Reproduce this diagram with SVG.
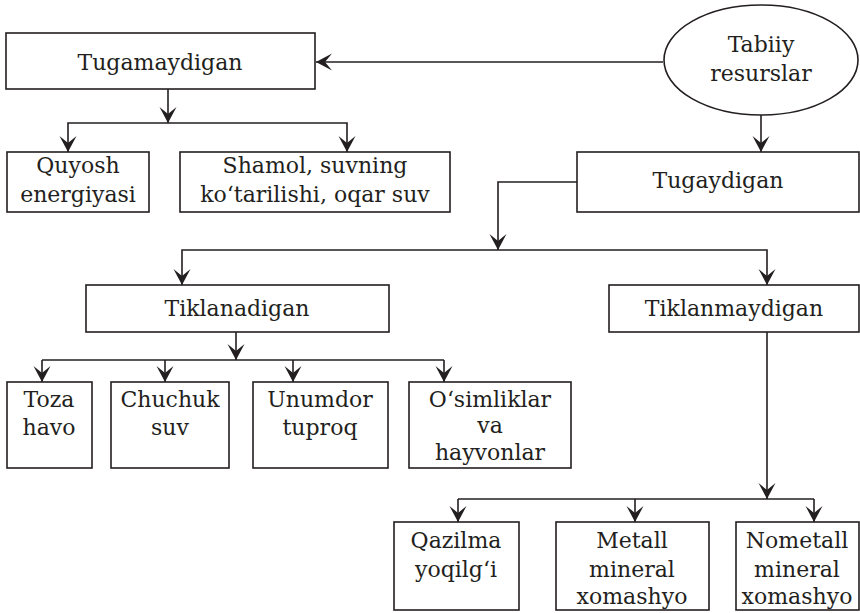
<svg xmlns="http://www.w3.org/2000/svg" width="860" height="613" viewBox="0 0 860 613">
  <defs>
    <marker id="arr" markerUnits="userSpaceOnUse" markerWidth="20" markerHeight="20" viewBox="-18 -10 20 20" refX="0" refY="0" orient="auto">
      <path d="M0,0 L-16,-8.5 L-9,0 L-16,8.5 Z" fill="#231f20"/>
    </marker>
  </defs>
  <style>
    .box { fill: #fff; stroke: #231f20; stroke-width: 1.6; }
    .lbl { font-family: "DejaVu Serif", "Liberation Serif", serif; font-size: 22px; fill: #231f20; text-anchor: middle; }
    .ln { fill: none; stroke: #231f20; stroke-width: 1.6; }
    .ar { fill: none; stroke: #231f20; stroke-width: 1.6; marker-end: url(#arr); }
  </style>
  <rect width="860" height="613" fill="#fff"/>

  <g id="connectors">
    <!-- root to both branches -->
    <line class="ar" x1="663" y1="62" x2="316" y2="62"/>
    <line class="ar" x1="761" y1="115" x2="761" y2="152"/>
    <!-- Tugamaydigan children -->
    <line class="ar" x1="168" y1="89" x2="168" y2="123"/>
    <polyline class="ar" points="168,123 68,123 68,152"/>
    <polyline class="ar" points="168,123 347,123 347,152"/>
    <!-- Tugaydigan children -->
    <polyline class="ar" points="577,182 498,182 498,250"/>
    <polyline class="ar" points="498,250 182,250 182,285"/>
    <polyline class="ar" points="498,250 767,250 767,285"/>
    <!-- Tiklanadigan children -->
    <line class="ar" x1="236" y1="332" x2="236" y2="360"/>
    <line class="ln" x1="42" y1="360" x2="444" y2="360"/>
    <line class="ar" x1="42" y1="360" x2="42" y2="382"/>
    <line class="ar" x1="165" y1="360" x2="165" y2="382"/>
    <line class="ar" x1="293" y1="360" x2="293" y2="382"/>
    <line class="ar" x1="444" y1="360" x2="444" y2="382"/>
    <!-- Tiklanmaydigan children -->
    <line class="ar" x1="767" y1="332" x2="767" y2="499"/>
    <line class="ln" x1="458" y1="499" x2="814" y2="499"/>
    <line class="ar" x1="458" y1="499" x2="458" y2="522"/>
    <line class="ar" x1="635" y1="499" x2="635" y2="522"/>
    <line class="ar" x1="814" y1="499" x2="814" y2="522"/>
  </g>

  <g id="tabiiy">
    <ellipse cx="761" cy="60" rx="97" ry="55" fill="#fff" stroke="#231f20" stroke-width="1.6"/>
    <text class="lbl" x="761" y="52">Tabiiy</text>
    <text class="lbl" x="761" y="81">resurslar</text>
  </g>

  <g id="tugamaydigan">
    <rect class="box" x="6" y="33" width="309" height="56"/>
    <text class="lbl" x="160" y="70">Tugamaydigan</text>
  </g>

  <g id="quyosh">
    <rect class="box" x="7" y="152" width="142" height="60"/>
    <text class="lbl" x="78" y="173">Quyosh</text>
    <text class="lbl" x="78" y="202">energiyasi</text>
  </g>

  <g id="shamol">
    <rect class="box" x="180" y="152" width="270" height="60"/>
    <text class="lbl" x="315" y="173">Shamol, suvning</text>
    <text class="lbl" x="315" y="202">ko‘tarilishi, oqar suv</text>
  </g>

  <g id="tugaydigan">
    <rect class="box" x="577" y="152" width="282" height="60"/>
    <text class="lbl" x="718" y="188">Tugaydigan</text>
  </g>

  <g id="tiklanadigan">
    <rect class="box" x="86" y="285" width="303" height="47"/>
    <text class="lbl" x="237" y="316">Tiklanadigan</text>
  </g>

  <g id="tiklanmaydigan">
    <rect class="box" x="609" y="285" width="250" height="47"/>
    <text class="lbl" x="734" y="316">Tiklanmaydigan</text>
  </g>

  <g id="toza-havo">
    <rect class="box" x="7" y="382" width="85" height="86"/>
    <text class="lbl" x="49" y="407">Toza</text>
    <text class="lbl" x="49" y="435">havo</text>
  </g>

  <g id="chuchuk-suv">
    <rect class="box" x="111" y="382" width="118" height="86"/>
    <text class="lbl" x="170" y="407">Chuchuk</text>
    <text class="lbl" x="170" y="435">suv</text>
  </g>

  <g id="unumdor-tuproq">
    <rect class="box" x="253" y="382" width="135" height="86"/>
    <text class="lbl" x="320" y="407">Unumdor</text>
    <text class="lbl" x="320" y="435">tuproq</text>
  </g>

  <g id="osimliklar">
    <rect class="box" x="409" y="382" width="162" height="86"/>
    <text class="lbl" x="490" y="407">O‘simliklar</text>
    <text class="lbl" x="490" y="433">va</text>
    <text class="lbl" x="490" y="460">hayvonlar</text>
  </g>

  <g id="qazilma">
    <rect class="box" x="394" y="522" width="125" height="88"/>
    <text class="lbl" x="456" y="548">Qazilma</text>
    <text class="lbl" x="456" y="577">yoqilg‘i</text>
  </g>

  <g id="metall">
    <rect class="box" x="556" y="522" width="153" height="88"/>
    <text class="lbl" x="632" y="548">Metall</text>
    <text class="lbl" x="632" y="577">mineral</text>
    <text class="lbl" x="632" y="604">xomashyo</text>
  </g>

  <g id="nometall">
    <rect class="box" x="736" y="522" width="123" height="88"/>
    <text class="lbl" x="797" y="548">Nometall</text>
    <text class="lbl" x="797" y="577">mineral</text>
    <text class="lbl" x="797" y="604">xomashyo</text>
  </g>
</svg>
